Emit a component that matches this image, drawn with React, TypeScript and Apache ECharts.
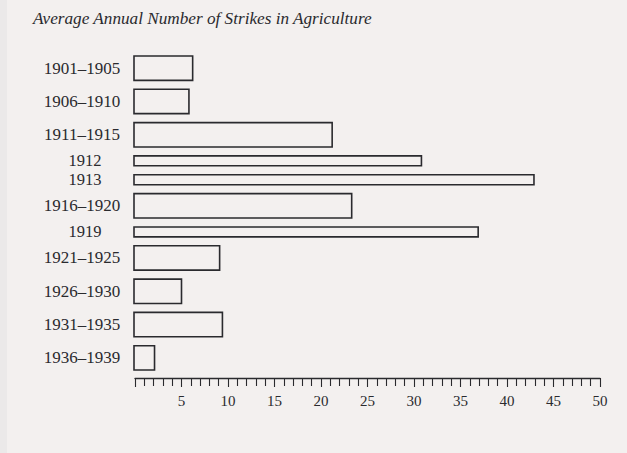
import React, { useEffect, useRef } from "react";
import * as echarts from "echarts";

const categories = [
  "1901–1905", "1906–1910", "1911–1915", "1912", "1913", "1916–1920",
  "1919", "1921–1925", "1926–1930", "1931–1935", "1936–1939",
];
const strikes = [6.2, 5.8, 21.2, 30.8, 42.9, 23.3, 36.9, 9.1, 5.0, 9.4, 2.1];
// "p" = five-year period (wide bar), "y" = single year (thin bar)
const kinds = ["p", "p", "p", "y", "y", "p", "y", "p", "p", "p", "p"];
const xTicks = [0, 5, 10, 15, 20, 25, 30, 35, 40, 45, 50];

const TITLE = "Average Annual Number of Strikes in Agriculture";
const INK = "#2a2a2e";
const PAPER = "#f3f0ef";

// layout model (y-axis units)
const WIDE = 24.5;
const THIN = 10;
const GAP = 9;
const BOTTOM_GAP = 8;

export default function App() {
  const ref = useRef<HTMLDivElement>(null);
  useEffect(() => {
    if (!ref.current) return;
    const chart = echarts.init(ref.current, null, { renderer: "svg" });
    let cursor = 0;
    const rows = categories.map((c, i) => {
      const h = kinds[i] === "p" ? WIDE : THIN;
      const center = cursor + h / 2;
      cursor += h + GAP;
      return [strikes[i], center, h, i];
    });
    const yMax = cursor - GAP + BOTTOM_GAP;

    chart.setOption({
      animation: false,
      backgroundColor: PAPER,
      graphic: [
        { type: "rect", left: 0, top: 0, shape: { width: 7, height: 453 }, style: { fill: "#ebe9e9" }, silent: true },
        {
          type: "text",
          left: 33,
          top: 10,
          style: {
            text: TITLE,
            fontFamily: "Liberation Serif",
            fontStyle: "italic",
            fontSize: 17.2,
            fill: INK,
          },
        },
      ],
      grid: { left: 135, right: 27, top: 56, bottom: 75 },
      xAxis: {
        type: "value",
        position: "bottom",
        min: 0,
        max: 50,
        interval: 5,
        axisLine: { show: true, onZero: false, lineStyle: { color: INK, width: 1.3 } },
        axisTick: { show: true, length: 9, lineStyle: { color: INK, width: 1.1 } },
        minorTick: { show: true, splitNumber: 5, length: 8, lineStyle: { color: INK, width: 1.1 } },
        splitLine: { show: false },
        minorSplitLine: { show: false },
        axisLabel: {
          margin: 15,
          fontFamily: "Liberation Serif",
          fontSize: 15,
          color: INK,
          customValues: xTicks,
          formatter: (v: number) => (v === 0 ? "" : String(v)),
        },
      },
      yAxis: {
        type: "value",
        inverse: true,
        min: 0,
        max: yMax,
        show: false,
      },
      series: [
        {
          type: "custom",
          data: rows,
          encode: { x: 0, y: 1 },
          renderItem: (params: any, api: any) => {
            const v = api.value(0);
            const c = api.value(1);
            const h = api.value(2);
            const idx = api.value(3);
            const wide = kinds[idx] === "p";
            const p0 = api.coord([0, c - h / 2]);
            const p1 = api.coord([v, c + h / 2]);
            return {
              type: "group",
              children: [
                {
                  type: "rect",
                  shape: { x: p0[0] - 1, y: p0[1], width: p1[0] - p0[0] + 1, height: p1[1] - p0[1] },
                  style: { fill: "none", stroke: INK, lineWidth: 1.6 },
                },
                {
                  type: "text",
                  x: p0[0] - (wide ? 53 : 50),
                  y: (p0[1] + p1[1]) / 2,
                  style: {
                    text: categories[idx],
                    fontFamily: "Liberation Serif",
                    fontSize: wide ? 17 : 16.5,
                    fill: INK,
                    align: "center",
                    verticalAlign: "middle",
                  },
                },
              ],
            };
          },
        },
      ],
    });
    return () => chart.dispose();
  }, []);
  return (
    <div
      ref={ref}
      style={{ position: "absolute", left: 0, top: 0, width: 627, height: 453 }}
    />
  );
}
